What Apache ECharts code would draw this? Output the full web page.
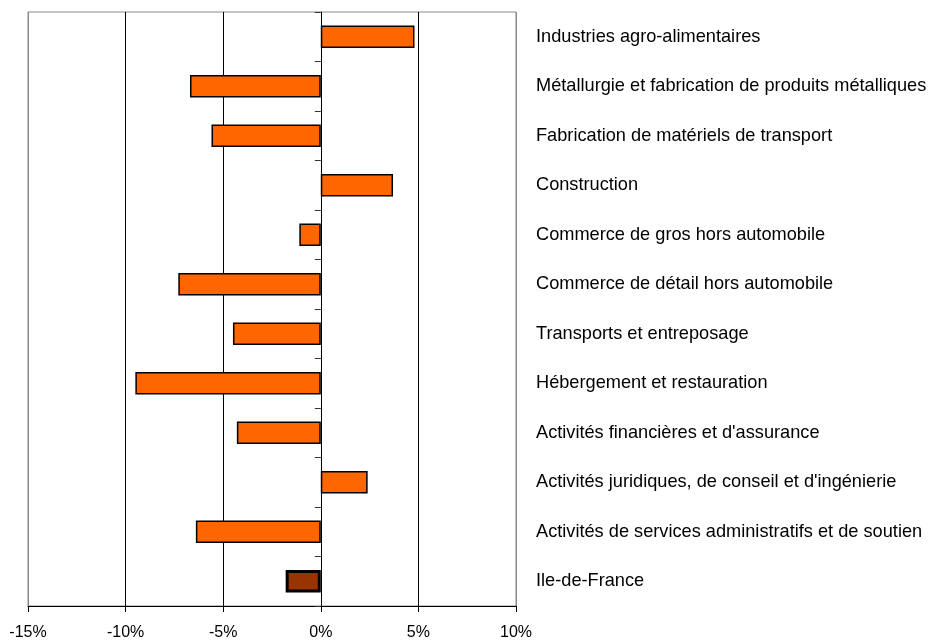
<!DOCTYPE html>
<html>
<head>
<meta charset="utf-8">
<script src="https://cdn.jsdelivr.net/npm/echarts@6/dist/echarts.min.js"></script>
<style>
  html, body { margin: 0; padding: 0; background: #fff; }
  #main { width: 935px; height: 641px; }
</style>
</head>
<body>
<div id="main"></div>
<script>
// secteurs (de haut en bas)
var secteurs = [
  'Industries agro-alimentaires',
  'Métallurgie et fabrication de produits métalliques',
  'Fabrication de matériels de transport',
  'Construction',
  'Commerce de gros hors automobile',
  'Commerce de détail hors automobile',
  'Transports et entreposage',
  'Hébergement et restauration',
  'Activités financières et d\'assurance',
  'Activités juridiques, de conseil et d\'ingénierie',
  'Activités de services administratifs et de soutien',
  'Ile-de-France'
];
// évolution en %
var evolution = [4.8, -6.7, -5.6, 3.7, -1.1, -7.3, -4.5, -9.5, -4.3, 2.4, -6.4, -1.8];

var chart = echarts.init(document.getElementById('main'));

var barData = evolution.map(function (v, i) {
  if (secteurs[i] === 'Ile-de-France') {
    return { value: v, itemStyle: { color: '#993300', borderColor: '#000', borderWidth: 3 } };
  }
  return v;
});

var option = {
  backgroundColor: '#ffffff',
  animation: false,
  grid: {
    left: 28, right: 419, top: 12, bottom: 34,
    show: true, borderColor: '#888', borderWidth: 1
  },
  xAxis: {
    type: 'value',
    min: -15, max: 10, interval: 5,
    axisLine: { show: true, onZero: false, lineStyle: { color: '#000', width: 1 } },
    axisTick: { show: true, length: 6, lineStyle: { color: '#000' } },
    axisLabel: {
      margin: 19,
      fontFamily: 'Liberation Sans, Arial',
      fontSize: 16,
      color: '#000',
      formatter: '{value}%'
    },
    splitLine: { show: true, lineStyle: { color: ['#888', '#000', '#000', '#000', '#000', '#888'], width: 1 } }
  },
  yAxis: [{
    // libellés à droite
    type: 'category',
    data: secteurs,
    inverse: true,
    position: 'right',
    axisLine: { show: false, onZero: false },
    axisTick: { show: false },
    axisLabel: {
      margin: 20,
      fontFamily: 'Liberation Sans, Arial',
      fontSize: 18.2,
      color: '#000'
    },
    splitLine: { show: false }
  }, {
    // axe vertical sur 0 avec graduations
    type: 'category',
    data: secteurs,
    inverse: true,
    position: 'left',
    axisLine: { show: true, onZero: true, lineStyle: { color: '#000', width: 1 } },
    axisTick: { show: true, length: 6, lineStyle: { color: '#333' } },
    axisLabel: { show: false },
    splitLine: { show: false }
  }],
  series: [{
    type: 'bar',
    yAxisIndex: 0,
    barWidth: '45%',
    data: barData,
    itemStyle: { color: '#FF6600', borderColor: '#000', borderWidth: 1.5 }
  }]
};

chart.setOption(option);
</script>
</body>
</html>
